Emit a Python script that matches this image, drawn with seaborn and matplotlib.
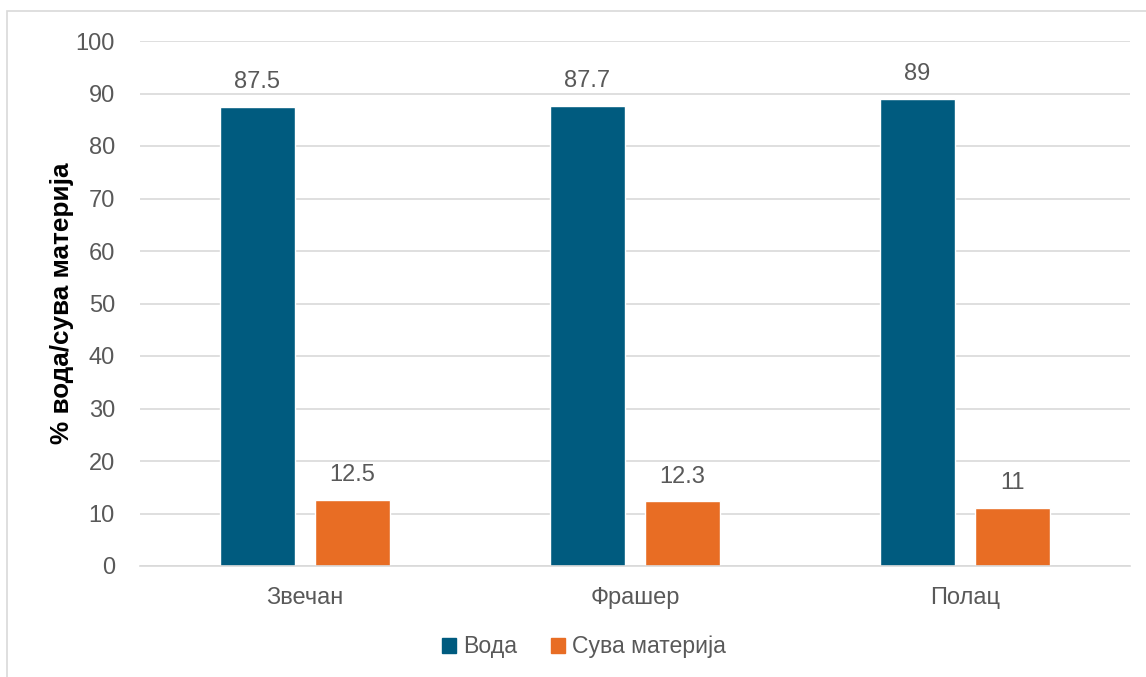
import matplotlib
matplotlib.use("Agg")
import matplotlib.pyplot as plt
import matplotlib.patches as mpatches
import seaborn as sns
import pandas as pd

locations = ["Звечан", "Фрашер", "Полац"]
series_names = ["Вода", "Сува материја"]
voda = [87.5, 87.7, 89]
suva = [12.5, 12.3, 11]
value_labels_voda = ["87.5", "87.7", "89"]
value_labels_suva = ["12.5", "12.3", "11"]

colors = ["#005B7F", "#E86D24"]
gray = "#595959"

df = pd.DataFrame({
    "loc": locations * 2,
    "series": [series_names[0]] * 3 + [series_names[1]] * 3,
    "val": voda + suva,
})

sns.set_theme(style="white")
plt.rcParams["font.family"] = ["Liberation Sans", "DejaVu Sans"]

fig = plt.figure(figsize=(11.46, 6.77), dpi=100)
ax = fig.add_axes([140 / 1146, 1 - 566 / 677, (1130 - 140) / 1146, (566 - 41) / 677])

sns.barplot(data=df, x="loc", y="val", hue="series", palette=colors,
            width=0.576, gap=0.21, ax=ax, legend=False, saturation=1)

labels_all = [value_labels_voda, value_labels_suva]
for cont, labs in zip(ax.containers, labels_all):
    ax.bar_label(cont, labels=labs, padding=10, fontsize=17, color=gray)

ax.set_ylim(0, 100)
ax.set_xlim(-0.5, 2.5)
ax.set_yticks(range(0, 101, 10))
ax.yaxis.grid(True, color="#D9D9D9", linewidth=1.2)
ax.set_axisbelow(True)
for s in ["top", "right", "left"]:
    ax.spines[s].set_visible(False)
ax.spines["bottom"].set_color("#D9D9D9")
ax.spines["bottom"].set_linewidth(1.2)
ax.tick_params(axis="both", length=0, labelsize=17, colors=gray)
ax.tick_params(axis="x", pad=15)
ax.tick_params(axis="y", pad=18)
ax.set_xlabel("")
ax.set_ylabel("% вода/сува материја", fontsize=18.8, fontweight="bold", color="black")
ax.yaxis.set_label_coords((74 - 140) / 990, 0.5)

handles = [mpatches.Patch(color=c, label=n) for c, n in zip(colors, series_names)]
fig.legend(handles=handles, loc="center", bbox_to_anchor=(584 / 1146, 1 - 647 / 677), ncol=2,
           frameon=False, fontsize=16.6, labelcolor=gray, handlelength=0.6, handleheight=0.6,
           handletextpad=0.3, columnspacing=1.5)

border = mpatches.Rectangle((7 / 1146, -0.05), 1.1, 1 - 11 / 677 + 0.05, transform=fig.transFigure,
                            fill=False, edgecolor="#D9D9D9", linewidth=1.2)
fig.patches.append(border)

fig.savefig("out.png", dpi=100)
